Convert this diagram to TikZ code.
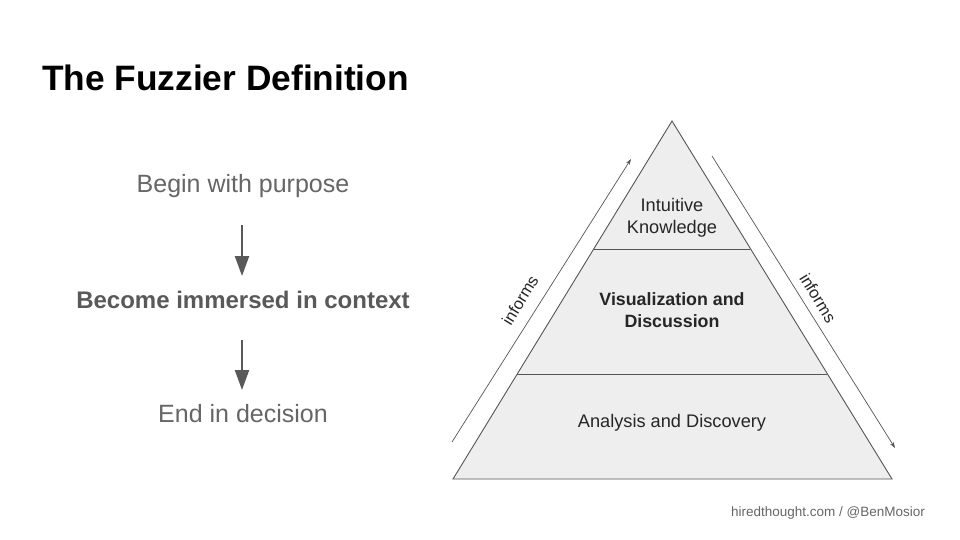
\documentclass[tikz,border=0pt]{standalone}
\usepackage{fontspec}
\setmainfont{Liberation Sans}
\usetikzlibrary{arrows.meta}
\definecolor{txtgray}{HTML}{666666}
\definecolor{boldgray}{HTML}{595959}
\definecolor{linegray}{HTML}{555555}
\definecolor{pyrfill}{HTML}{EEEEEE}
\tikzset{
  lefttext/.style={text=txtgray, font=\fontsize{25}{29}\selectfont, anchor=center, inner sep=0pt},
  flowarrow/.style={draw=boldgray, line width=2.2pt, -{Triangle[length=20pt,width=14pt]}},
  pyrtext/.style={text=black!85, font=\fontsize{18.2}{22}\selectfont, align=center, anchor=center, inner sep=0pt},
  sidearrow/.style={draw=linegray, line width=0.7pt, -{Stealth[length=6pt,width=4pt]}},
  sidelabel/.style={text=black!85, font=\fontsize{16.5}{18}\selectfont, inner sep=0pt},
}
\begin{document}
\begin{tikzpicture}[x=1pt,y=-1pt]
\useasboundingbox[fill=white] (0,0) rectangle (960,540);
% title
\node[anchor=base west, inner sep=0pt, font=\bfseries\fontsize{35.3}{40}\selectfont] (title) at (42,91) {The Fuzzier Definition};
% left flow
\node[lefttext] (begin) at (243,186) {Begin with purpose};
\node[lefttext, text=boldgray, font=\bfseries\fontsize{24}{29}\selectfont] (become) at (243,300) {Become immersed in context};
\node[lefttext] (end) at (243,414) {End in decision};
\coordinate (a1s) at (242,225); \coordinate (a1e) at (242,276);
\coordinate (a2s) at (242,340); \coordinate (a2e) at (242,390);
\draw[flowarrow] (a1s) -- (a1e);
\draw[flowarrow] (a2s) -- (a2e);
% pyramid
\coordinate (apex) at (672,121);
\coordinate (bl) at (453,479);
\coordinate (br) at (892,479);
\coordinate (l1) at (593.7,249); \coordinate (r1) at (750.3,249);
\coordinate (l2) at (517.2,374); \coordinate (r2) at (826.8,374);
\draw[draw=linegray, fill=pyrfill, line width=0.9pt, line join=miter] (apex) -- (br) -- (bl) -- cycle;
\draw[draw=linegray, line width=0.9pt] (l1) -- (r1);
\draw[draw=linegray, line width=0.9pt] (l2) -- (r2);
\node[pyrtext] (intuitive) at (672,218) {Intuitive\\Knowledge};
\node[pyrtext, font=\bfseries\fontsize{17.8}{22}\selectfont] (vis) at (672,310) {Visualization and\\Discussion};
\node[pyrtext] (analysis) at (672,423) {Analysis and Discovery};
% side arrows
\coordinate (ls) at (452,442); \coordinate (le) at (631,159);
\coordinate (rs) at (712,156); \coordinate (re) at (895,448);
\draw[sidearrow] (ls) -- (le);
\draw[sidearrow] (rs) -- (re);
\node[sidelabel, rotate=58.5] (inf1) at (520,300) {informs};
\node[sidelabel, rotate=-58.5] (inf2) at (818,298) {informs};
% footer
\node[anchor=base east, inner sep=0pt, text=txtgray, font=\fontsize{13.5}{16}\selectfont] (footer) at (925,516) {hiredthought.com / @BenMosior};
\end{tikzpicture}
\end{document}
